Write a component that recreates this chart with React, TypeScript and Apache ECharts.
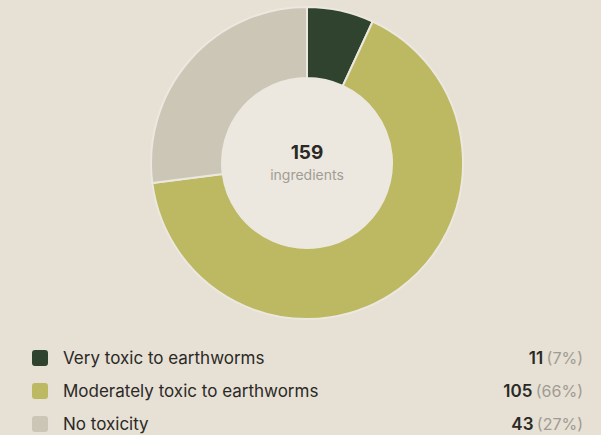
import React, { useEffect, useRef } from "react";
import * as echarts from "echarts";

const categories = ["Very toxic to earthworms", "Moderately toxic to earthworms", "No toxicity"];
const values = [11, 105, 43];
const percents = ["7%", "66%", "27%"];
const colors = ["#2f432f", "#bdb862", "#cbc6b6"];
const totalLabel = "159";
const totalCaption = "ingredients";

export default function App() {
  const ref = useRef<HTMLDivElement>(null);
  useEffect(() => {
    if (!ref.current) return;
    const chart = echarts.init(ref.current, null, { renderer: "svg" });
    const cx = 307;
    const cy = 163;
    const rowY = [358, 391, 424];
    const legendEls: any[] = [];
    categories.forEach((c, i) => {
      legendEls.push({
        type: "rect",
        shape: { x: 32, y: rowY[i] - 8, width: 16, height: 16, r: 3 },
        style: { fill: colors[i] },
      });
      legendEls.push({
        type: "text",
        x: 63,
        y: rowY[i],
        style: {
          text: c,
          fill: "#2a2925",
          font: "17px Inter, 'Noto Sans', sans-serif",
          textVerticalAlign: "middle",
          textAlign: "left",
        },
      });
      legendEls.push({
        type: "text",
        x: 583,
        y: rowY[i],
        style: {
          text: `{v|${values[i]}} {p|(${percents[i]})}`,
          textAlign: "right",
          textVerticalAlign: "middle",
          rich: {
            v: { font: "600 17px Inter, 'Noto Sans', sans-serif", fill: "#2a2925" },
            p: { font: "16px Inter, 'Noto Sans', sans-serif", fill: "#a09b92" },
          },
        },
      });
    });
    chart.setOption({
      animation: false,
      backgroundColor: "#e6e0d5",
      graphic: [
        { type: "circle", shape: { cx, cy, r: 86 }, style: { fill: "#ece8df" }, z: -1 },
        {
          type: "text",
          x: cx,
          y: 152,
          style: {
            text: totalLabel,
            textAlign: "center",
            textVerticalAlign: "middle",
            font: "700 19px Inter, 'Noto Sans', sans-serif",
            fill: "#2a2925",
          },
        },
        {
          type: "text",
          x: cx,
          y: 174,
          style: {
            text: totalCaption,
            textAlign: "center",
            textVerticalAlign: "middle",
            font: "14px Inter, 'Noto Sans', sans-serif",
            fill: "#a29d94",
          },
        },
        ...legendEls,
      ],
      series: [
        {
          type: "pie",
          center: [cx, cy],
          radius: [85, 156],
          startAngle: 90,
          clockwise: true,
          label: { show: false },
          labelLine: { show: false },
          emphasis: { disabled: true },
          itemStyle: { borderColor: "#ece8df", borderWidth: 2 },
          data: categories.map((c, i) => ({ name: c, value: values[i], itemStyle: { color: colors[i] } })),
        },
      ],
    });
    return () => chart.dispose();
  }, []);
  return (
    <div
      ref={ref}
      style={{ position: "absolute", left: 0, top: 0, width: 601, height: 435 }}
    />
  );
}
